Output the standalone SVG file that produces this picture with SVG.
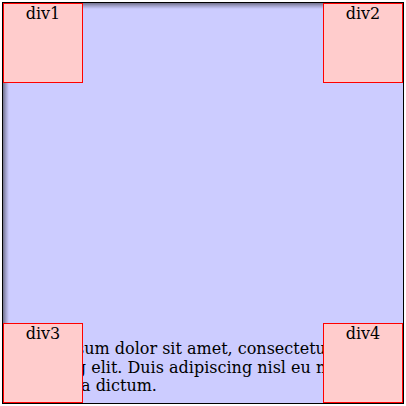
<svg xmlns="http://www.w3.org/2000/svg" width="406" height="406" viewBox="0 0 406 406">
  <style>
    .box { fill: #ffcccc; stroke: #ff0000; stroke-width: 1; }
    .lbl { font-family: "DejaVu Serif", "Liberation Serif", serif; font-size: 16px; fill: #000; text-anchor: middle; }
    .body { font-family: "DejaVu Serif", "Liberation Serif", serif; font-size: 16px; fill: #000; }
  </style>
  <defs>
    <linearGradient id="shL" x1="0" y1="0" x2="1" y2="0">
      <stop offset="0" stop-color="#000" stop-opacity="0.45"/>
      <stop offset="0.5" stop-color="#000" stop-opacity="0.2"/>
      <stop offset="1" stop-color="#000" stop-opacity="0"/>
    </linearGradient>
    <linearGradient id="shT" x1="0" y1="0" x2="0" y2="1">
      <stop offset="0" stop-color="#000" stop-opacity="0.45"/>
      <stop offset="0.5" stop-color="#000" stop-opacity="0.2"/>
      <stop offset="1" stop-color="#000" stop-opacity="0"/>
    </linearGradient>
  </defs>
  <rect width="406" height="406" fill="#ffffff"/>
  <g id="container">
    <rect x="2.5" y="2.5" width="401" height="401" fill="#ccccff" stroke="#000000" stroke-width="1"/>
    <rect x="3" y="3" width="6" height="400" fill="url(#shL)"/>
    <rect x="3" y="3" width="400" height="6" fill="url(#shT)"/>
    <text class="body" x="3" y="354">Lorem ipsum dolor sit amet, consectetur</text>
    <text class="body" x="3" y="372.6">adipiscing elit. Duis adipiscing nisl eu m</text>
    <text class="body" x="81" y="391.2">a dictum.</text>
  </g>
  <g id="div1">
    <rect class="box" x="3.5" y="3.5" width="79" height="79"/>
    <text class="lbl" x="43" y="19">div1</text>
  </g>
  <g id="div2">
    <rect class="box" x="323.5" y="3.5" width="79" height="79"/>
    <text class="lbl" x="363" y="19">div2</text>
  </g>
  <g id="div3">
    <rect class="box" x="3.5" y="323.5" width="79" height="79"/>
    <text class="lbl" x="43" y="339">div3</text>
  </g>
  <g id="div4">
    <rect class="box" x="323.5" y="323.5" width="79" height="79"/>
    <text class="lbl" x="363" y="339">div4</text>
  </g>
  <g id="connectors"/>
</svg>
